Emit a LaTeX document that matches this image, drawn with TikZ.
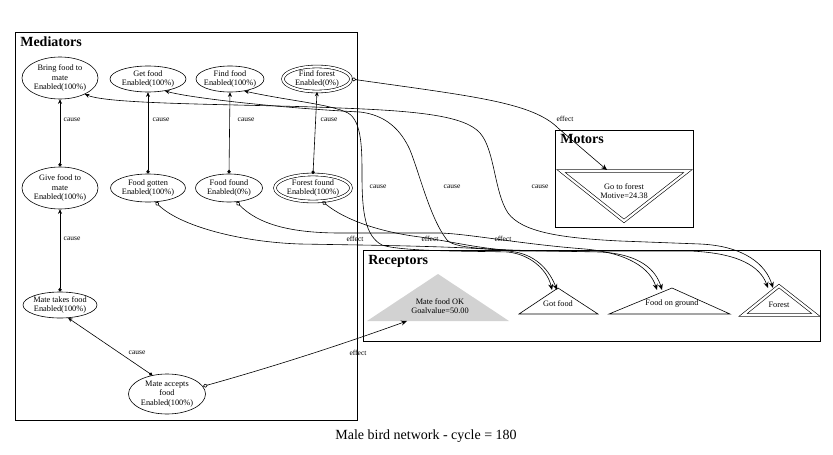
\documentclass[tikz,border=0pt]{standalone}
\usepackage{fontspec}
\setmainfont{Liberation Serif}
\usetikzlibrary{shapes.geometric,arrows.meta}
\begin{document}
\begin{tikzpicture}[x=1pt,y=-1pt,line width=0.6pt,line join=miter,
  med/.style={ellipse,draw,inner xsep=-8pt,inner ysep=-3pt,align=center,font=\fontsize{8.3}{9.3}\selectfont},
  dbl/.style={double,double distance=2.2pt,line width=0.6pt},
  lbl/.style={font=\fontsize{7.5}{8}\selectfont,inner sep=1pt},
  ttl/.style={font=\fontsize{14}{16}\selectfont\bfseries,anchor=west,inner sep=0pt},
  txt/.style={align=center,font=\fontsize{8.3}{9.5}\selectfont,inner sep=0pt},
  cz/.style={arrows={Stealth[length=4.5pt,width=4pt]-Diamond[length=4pt,width=3.5pt]}},
  czl/.style={arrows={Stealth[length=4.5pt,width=4pt]-Stealth[length=6pt,width=5pt]}},
  ef/.style={arrows={Diamond[open,length=5pt,width=4pt]-Stealth[length=6pt,width=5pt]}},
]
\useasboundingbox (0,0) rectangle (833,455);
\fill[white] (0,0) rectangle (833,455);

% cluster boxes
\draw (15,32) rectangle (357,420);
\draw (555,130) rectangle (693,227);
\draw (363,250) rectangle (820,341);
\node[ttl] (tmed) at (20,42) {Mediators};
\node[ttl] (tmot) at (560,139) {Motors};
\node[ttl] (trec) at (368,261) {Receptors};

% mediators
\node[med,minimum width=76pt,minimum height=42pt] (bring) at (60,78) {Bring food to\\mate\\Enabled(100\%)};
\node[med,minimum width=76pt,minimum height=26pt] (getf) at (148,79) {Get food\\Enabled(100\%)};
\node[med,minimum width=68pt,minimum height=26pt] (findf) at (230,79) {Find food\\Enabled(100\%)};
\node[med,dbl,minimum width=68pt,minimum height=25pt] (findfo) at (317,79) {Find forest\\Enabled(0\%)};
\node[med,minimum width=76pt,minimum height=42pt] (give) at (60,188) {Give food to\\mate\\Enabled(100\%)};
\node[med,minimum width=75pt,minimum height=28pt] (gotten) at (148,188) {Food gotten\\Enabled(100\%)};
\node[med,minimum width=67pt,minimum height=28pt] (found) at (229,188) {Food found\\Enabled(0\%)};
\node[med,dbl,minimum width=76pt,minimum height=27pt] (forestf) at (313,188) {Forest found\\Enabled(100\%)};
\node[med,minimum width=74pt,minimum height=26pt] (takes) at (60,305) {Mate takes food\\Enabled(100\%)};
\node[med,minimum width=77pt,minimum height=40pt] (accepts) at (167,394) {Mate accepts\\food\\Enabled(100\%)};

% motors
\draw[dbl] (561,171) -- (688,171) -- (624,221) -- cycle;
\node[txt] (goto) at (624,191) {Go to forest\\Motive=24.38};
\coordinate (gotop) at (607,170);

% receptors
\fill[gray!35] (367,321) -- (509,321) -- (438,274) -- cycle;
\node[txt] (mfok) at (440,306) {Mate food OK\\Goalvalue=50.00};
\coordinate (mfokin) at (407,321);
\draw (519,314) -- (598,314) -- (558,288) -- cycle;
\node[txt] (gotfood) at (558,304) {Got food};
\draw (609,314) -- (730,314) -- (672,288) -- cycle;
\node[txt] (fog) at (672,304) {Food on ground};
\draw[dbl] (743,315) -- (816,315) -- (779,286) -- cycle;
\node[txt] (forest) at (779,305) {Forest};
\coordinate (gf1) at (552,290);
\coordinate (gf2) at (557,290);
\coordinate (fg1) at (657,290);
\coordinate (fg2) at (662,290);
\coordinate (fo1) at (768,288);
\coordinate (fo2) at (773,288);

% vertical cause edges
\draw[cz] (bring.south) -- (give.north) node[lbl] (l1) at (72,120) {cause};
\draw[cz] (give.south) -- (takes.north) node[lbl] (l2) at (72,239) {cause};
\draw[cz] (getf.south) -- (gotten.north) node[lbl] (l3) at (161,120) {cause};
\draw[cz] (findf.south) -- (found.north) node[lbl] (l4) at (246,120) {cause};
\draw[cz] (findfo.south) -- (forestf.north) node[lbl] (l5) at (329,120) {cause};
\draw[cz] (takes.-58) -- (accepts.128) node[lbl] (l6) at (137,353) {cause};

% effect edges
\draw[ef] (accepts.12) .. controls (290,362) and (360,338) .. (mfokin) node[lbl] (l7) at (358,353) {effect};
\draw[ef] (findfo.east) .. controls (470,96) and (532,102) .. (558,128) -- (gotop) node[lbl] (l8) at (565,119) {effect};
\draw[ef] (gotten.-62) .. controls (180,226) and (240,242) .. (300,244) -- (360,245) .. controls (420,246) and (495,248) .. (515,252) .. controls (538,256) and (550,272) .. (gf2) node[lbl] (l9) at (355,239) {effect};
\draw[ef] (found.-62) .. controls (258,224) and (290,233) .. (340,233) -- (440,233) .. controls (470,234) and (520,244) .. (585,249) .. controls (628,253) and (650,268) .. (fg1) node[lbl] (l10) at (430,239) {effect};
\draw[ef] (forestf.-55) .. controls (345,220) and (380,232) .. (420,237) .. controls (460,243) and (480,249) .. (520,251) -- (690,251) .. controls (738,253) and (760,266) .. (fo1) node[lbl] (l11) at (503,239) {effect};

% long cause edges
\draw[czl] (bring.-33) .. controls (110,105) and (250,104) .. (340,108) .. controls (420,111) and (465,116) .. (480,133) .. controls (495,150) and (494,192) .. (508,213) .. controls (522,232) and (560,238) .. (620,241) -- (700,244) .. controls (745,246) and (766,265) .. (fo2) node[lbl] (l12) at (540,187) {cause};
\draw[czl] (getf.-35) .. controls (190,98) and (280,108) .. (360,112) .. controls (386,115) and (401,130) .. (410,150) .. controls (420,175) and (430,218) .. (447,240) .. controls (456,250) and (500,250) .. (600,252) .. controls (640,254) and (656,270) .. (fg2) node[lbl] (l13) at (452,187) {cause};
\draw[czl] (findf.-40) .. controls (290,101) and (330,104) .. (348,113) .. controls (362,121) and (362,150) .. (362,175) .. controls (362,212) and (365,236) .. (382,245) .. controls (402,252) and (480,251) .. (508,252) .. controls (533,255) and (548,272) .. (gf1) node[lbl] (l14) at (378,187) {cause};

\node[font=\fontsize{14}{16}\selectfont,inner sep=0pt] (cap) at (426,436) {Male bird network - cycle = 180};
\end{tikzpicture}
\end{document}
